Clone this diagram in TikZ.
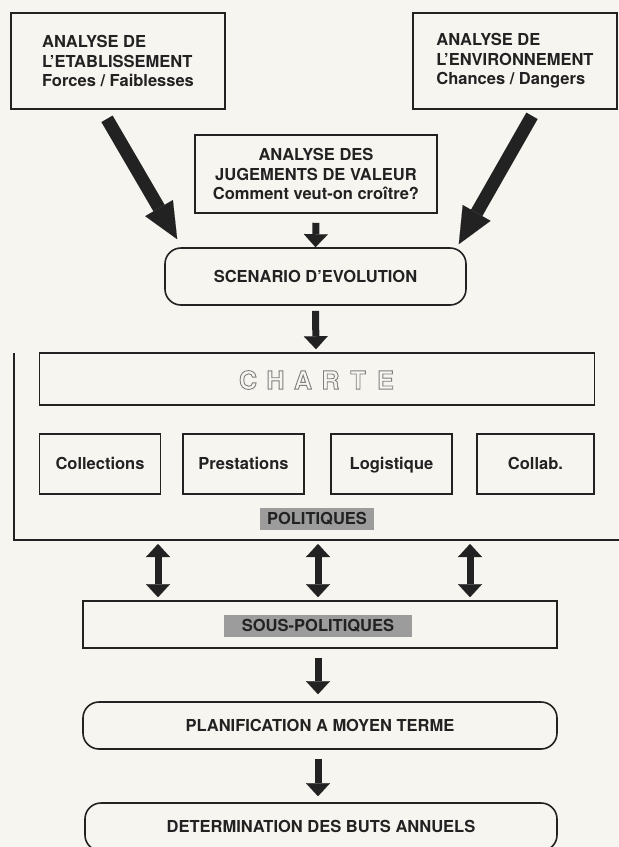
\documentclass[tikz,border=0pt]{standalone}
\usepackage{fontspec}
\setmainfont{TeX Gyre Heros}
\usepackage{xcolor}
\usepackage{tikz}
\usetikzlibrary{positioning, arrows.meta, calc}
\definecolor{papercream}{HTML}{F7F5EF}
\definecolor{inkgray}{HTML}{222222}
\definecolor{labelgray}{HTML}{9C9C9C}
\definecolor{outlinegray}{HTML}{7E7E7E}
\newcommand\hollowtext[1]{\special{pdf:literal direct 1 Tr 0.9 w}#1\special{pdf:literal direct 0 Tr}}

\tikzset{
  framebox/.style={draw=inkgray, line width=1.6pt, inner sep=0pt, text=inkgray,
                   font=\bfseries\fontsize{16.5}{19.5}\selectfont},
  oneline/.style={text height=13pt, text depth=1.2pt},
  roundbox/.style={framebox, oneline, rounded corners=16pt},
  tagbox/.style={fill=labelgray, inner sep=0pt, text=inkgray, oneline,
                 font=\bfseries\fontsize{16.5}{19.5}\selectfont},
  charteletter/.style={inner sep=0pt, text=outlinegray,
                       font=\bfseries\fontsize{25}{25}\selectfont},
  flowarrow/.style={draw=inkgray, line width=7pt,
                    -{Triangle[width=24pt, length=13pt, line width=0.1pt]}},
  bothways/.style={draw=inkgray, line width=7pt,
                   {Triangle[width=24pt, length=13pt, line width=0.1pt]}-{Triangle[width=24pt, length=13pt, line width=0.1pt]}},
  bigarrow/.style={draw=inkgray, line width=13pt,
                   -{Triangle[width=32pt, length=36pt, line width=0.1pt]}}
}

\begin{document}
\begin{tikzpicture}[x=1pt, y=-1pt]
  \fill[papercream] (0,0) rectangle (619,847);
  \useasboundingbox (0,0) rectangle (619,847);

  \node[framebox, minimum width=214pt, minimum height=96pt, align=left] (etab) at (118,61)
    {ANALYSE DE\\L'ETABLISSEMENT\\Forces / Faiblesses};
  \node[framebox, minimum width=204pt, minimum height=96pt, align=left] (env) at (515,61)
    {ANALYSE DE\\L'ENVIRONNEMENT\\Chances / Dangers};
  \node[framebox, minimum width=242pt, minimum height=78pt, align=center] (jug) at (316,174)
    {ANALYSE DES\\JUGEMENTS DE VALEUR\\Comment veut-on croître?};
  \node[roundbox, minimum width=301pt, minimum height=57pt] (scen) at (315.5,276.5)
    {SCENARIO D'EVOLUTION};

  \coordinate (poltop) at (14,353);
  \coordinate (polbot) at (622,540);
  \draw[draw=inkgray, line width=1.6pt] (poltop) |- (polbot);

  \node[framebox, minimum width=555pt, minimum height=52pt] (charte) at (317,379) {};
  \foreach \ch [count=\i] in {C,H,A,R,T,E}
    \node[charteletter] (chr\i) at (220.5+27.5*\i,380) {\hollowtext{\ch}};

  \node[framebox, oneline, minimum width=121pt, minimum height=60pt] (coll) at (100,464) {Collections};
  \node[framebox, oneline, minimum width=121pt, minimum height=60pt] (prest) at (243.5,464) {Prestations};
  \node[framebox, oneline, minimum width=121pt, minimum height=60pt] (logi) at (391.5,464) {Logistique};
  \node[framebox, oneline, minimum width=117pt, minimum height=60pt] (collab) at (535.5,464) {Collab.};
  \node[tagbox, minimum width=114pt, minimum height=22pt] (pol) at (317,519) {POLITIQUES};

  \node[framebox, minimum width=474pt, minimum height=47pt] (sous) at (320,624.5) {};
  \node[tagbox, minimum width=188pt, minimum height=22pt] (souslabel) at (318,626) {SOUS-POLITIQUES};
  \node[roundbox, minimum width=474pt, minimum height=47pt] (planif) at (320,725.5)
    {PLANIFICATION A MOYEN TERME};
  \node[roundbox, minimum width=472pt, minimum height=48pt] (determ) at (321,827)
    {DETERMINATION DES BUTS ANNUELS};

  \draw[bigarrow] ($(etab.south)+(-11,9)$) -- ($(scen.north west)+(13,-8)$);
  \draw[bigarrow] ($(env.south)+(17,6)$) -- ($(scen.north east)+(-8,-3)$);
  \draw[flowarrow] ($(jug.south)+(0,9)$) -- (scen.north);
  \draw[flowarrow] ($(scen.south)+(0,5)$) -- ($(charte.north)+(-1,-3)$);
  \foreach \dx in {-162,-2,150}
    \draw[bothways] ($(sous.north |- polbot)+(\dx,4)$) -- ($(sous.north)+(\dx,-3)$);
  \draw[flowarrow] ($(sous.south)+(-2,9)$) -- ($(planif.north)+(-2,-7)$);
  \draw[flowarrow] ($(planif.south)+(-2,9)$) -- ($(determ.north)+(-3,-6)$);
\end{tikzpicture}
\end{document}
